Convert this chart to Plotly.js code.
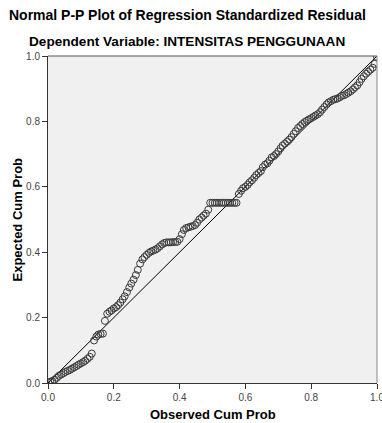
<!DOCTYPE html>
<html>
<head>
<meta charset="utf-8">
<script src="https://cdn.plot.ly/plotly-3.0.1.min.js"></script>
<style>html,body{margin:0;padding:0;background:#fff;}#chart{width:382px;height:423px;}</style>
</head>
<body>
<div id="chart"></div>
<script>
// Observed cumulative probability (x) and expected cumulative probability (y)
const observedCumProb = [
  0.000,0.007,0.013,0.020,0.027,0.033,0.040,0.047,0.053,0.060,0.067,0.073,0.080,0.087,0.093,0.100,0.107,0.113,0.120,0.127,0.133,
  0.140,0.147,0.153,0.160,0.167,
  0.173,0.180,0.187,0.193,0.200,0.207,0.213,0.220,0.227,0.233,0.240,0.247,0.253,0.260,
  0.267,0.273,0.280,0.287,0.293,0.300,
  0.307,0.313,0.320,0.327,0.333,0.340,0.347,0.353,0.360,0.367,0.373,0.380,0.387,0.393,0.400,
  0.407,0.413,0.420,0.427,0.433,0.440,0.447,0.453,0.460,0.467,0.473,0.480,0.487,
  0.493,0.500,0.507,0.513,0.520,0.527,0.533,0.540,0.547,0.553,0.560,0.567,0.573,
  0.580,0.587,0.593,0.600,0.607,0.613,0.620,0.627,0.633,0.640,0.647,0.653,0.660,0.667,0.673,0.680,
  0.687,0.693,0.700,0.707,0.713,0.720,0.727,0.733,0.740,0.747,0.753,0.760,0.767,0.773,0.780,0.787,
  0.793,0.800,0.807,0.813,0.820,0.827,0.833,0.840,0.847,0.853,0.860,0.867,0.873,0.880,0.887,0.893,
  0.900,0.907,0.913,0.920,0.927,0.933,0.940,0.947,0.953,0.960,0.967,0.973,0.980,0.987,0.993,1.000
];
const expectedCumProb = [
  0.002,0.004,0.006,0.010,0.016,0.022,0.026,0.030,0.034,0.037,0.040,0.044,0.048,0.052,0.056,0.060,0.064,0.068,0.074,0.080,0.090,
  0.130,0.142,0.148,0.150,0.151,
  0.190,0.212,0.218,0.222,0.228,0.232,0.238,0.246,0.256,0.265,0.278,0.292,0.304,0.316,
  0.330,0.346,0.365,0.378,0.385,0.392,
  0.398,0.402,0.405,0.408,0.412,0.418,0.424,0.428,0.430,0.430,0.430,0.431,0.431,0.432,0.440,
  0.455,0.468,0.474,0.476,0.478,0.480,0.483,0.490,0.500,0.506,0.512,0.518,0.530,
  0.551,0.551,0.551,0.551,0.551,0.551,0.551,0.551,0.551,0.551,0.551,0.551,0.551,
  0.578,0.588,0.596,0.600,0.606,0.614,0.620,0.628,0.636,0.642,0.648,0.660,0.668,0.672,0.680,0.690,
  0.694,0.700,0.708,0.718,0.726,0.732,0.738,0.744,0.752,0.762,0.770,0.780,0.786,0.792,0.798,0.802,
  0.806,0.810,0.814,0.818,0.822,0.828,0.836,0.844,0.852,0.858,0.862,0.866,0.868,0.870,0.874,0.878,
  0.880,0.884,0.888,0.892,0.898,0.904,0.910,0.920,0.930,0.938,0.946,0.952,0.958,0.964,0.976,0.997
];
const refLineX = [0, 1];
const refLineY = [0, 1];
const tickVals = [0, 0.2, 0.4, 0.6, 0.8, 1.0];
const tickText = ["0.0", "0.2", "0.4", "0.6", "0.8", "1.0"];
const titleLine1 = "Normal P-P Plot of Regression Standardized Residual";
const titleLine2 = "Dependent Variable: INTENSITAS PENGGUNAAN";
const xTitle = "Observed Cum Prob";
const yTitle = "Expected Cum Prob";

const FONT = "'Liberation Sans', Arial, sans-serif";

const traces = [
  {
    x: refLineX, y: refLineY, type: 'scatter', mode: 'lines',
    line: {color: '#000', width: 1}, hoverinfo: 'skip', showlegend: false
  },
  {
    x: observedCumProb, y: expectedCumProb, type: 'scatter', mode: 'markers',
    marker: {symbol: 'circle-open', size: 7, color: '#3a3a3a', line: {width: 1, color: '#3a3a3a'}},
    showlegend: false
  }
];

const layout = {
  width: 382, height: 423,
  margin: {l: 48, r: 5, t: 56, b: 40, pad: 0},
  paper_bgcolor: '#ffffff',
  plot_bgcolor: '#f0f0f0',
  showlegend: false,
  font: {family: FONT, size: 10, color: '#333'},
  xaxis: {
    range: [0, 1], tickvals: tickVals, ticktext: tickText,
    showgrid: false, zeroline: false,
    showline: true, linecolor: '#333', linewidth: 1, mirror: false,
    ticks: 'outside', ticklen: 5, tickcolor: '#333', tickwidth: 1,
    ticklabeloverflow: 'allow',
    tickfont: {family: FONT, size: 10, color: '#444'}, fixedrange: true
  },
  yaxis: {
    range: [0, 1], tickvals: tickVals, ticktext: tickText,
    showgrid: false, zeroline: false,
    showline: true, linecolor: '#333', linewidth: 1, mirror: false,
    ticks: 'outside', ticklen: 5, tickcolor: '#333', tickwidth: 1,
    ticklabeloverflow: 'allow',
    tickfont: {family: FONT, size: 10, color: '#444'}, fixedrange: true
  },
  shapes: [
    {type: 'line', xref: 'paper', yref: 'paper', x0: 0, x1: 1, y0: 1, y1: 1, line: {color: '#555', width: 1}},
    {type: 'line', xref: 'paper', yref: 'paper', x0: 1, x1: 1, y0: 0, y1: 1, line: {color: '#888', width: 1}}
  ],
  annotations: [
    {text: '<b>' + titleLine1 + '</b>', xref: 'paper', yref: 'paper', x: 0.4225, xanchor: 'center', y: 1, yanchor: 'middle', yshift: 41, showarrow: false, font: {family: FONT, size: 14, color: '#000'}},
    {text: '<b>' + titleLine2 + '</b>', xref: 'paper', yref: 'paper', x: 0.4225, xanchor: 'center', y: 1, yanchor: 'middle', yshift: 15, showarrow: false, font: {family: FONT, size: 13.6, color: '#000'}},
    {text: '<b>' + xTitle + '</b>', xref: 'paper', yref: 'paper', x: 0.5, xanchor: 'center', y: 0, yanchor: 'middle', yshift: -31, showarrow: false, font: {family: FONT, size: 13, color: '#000'}},
    {text: '<b>' + yTitle + '</b>', xref: 'paper', yref: 'paper', x: 0, xanchor: 'center', xshift: -31, y: 0.5, yanchor: 'middle', textangle: -90, showarrow: false, font: {family: FONT, size: 13, color: '#000'}}
  ]
};

Plotly.newPlot('chart', traces, layout, {displayModeBar: false, staticPlot: true});
</script>
</body>
</html>
